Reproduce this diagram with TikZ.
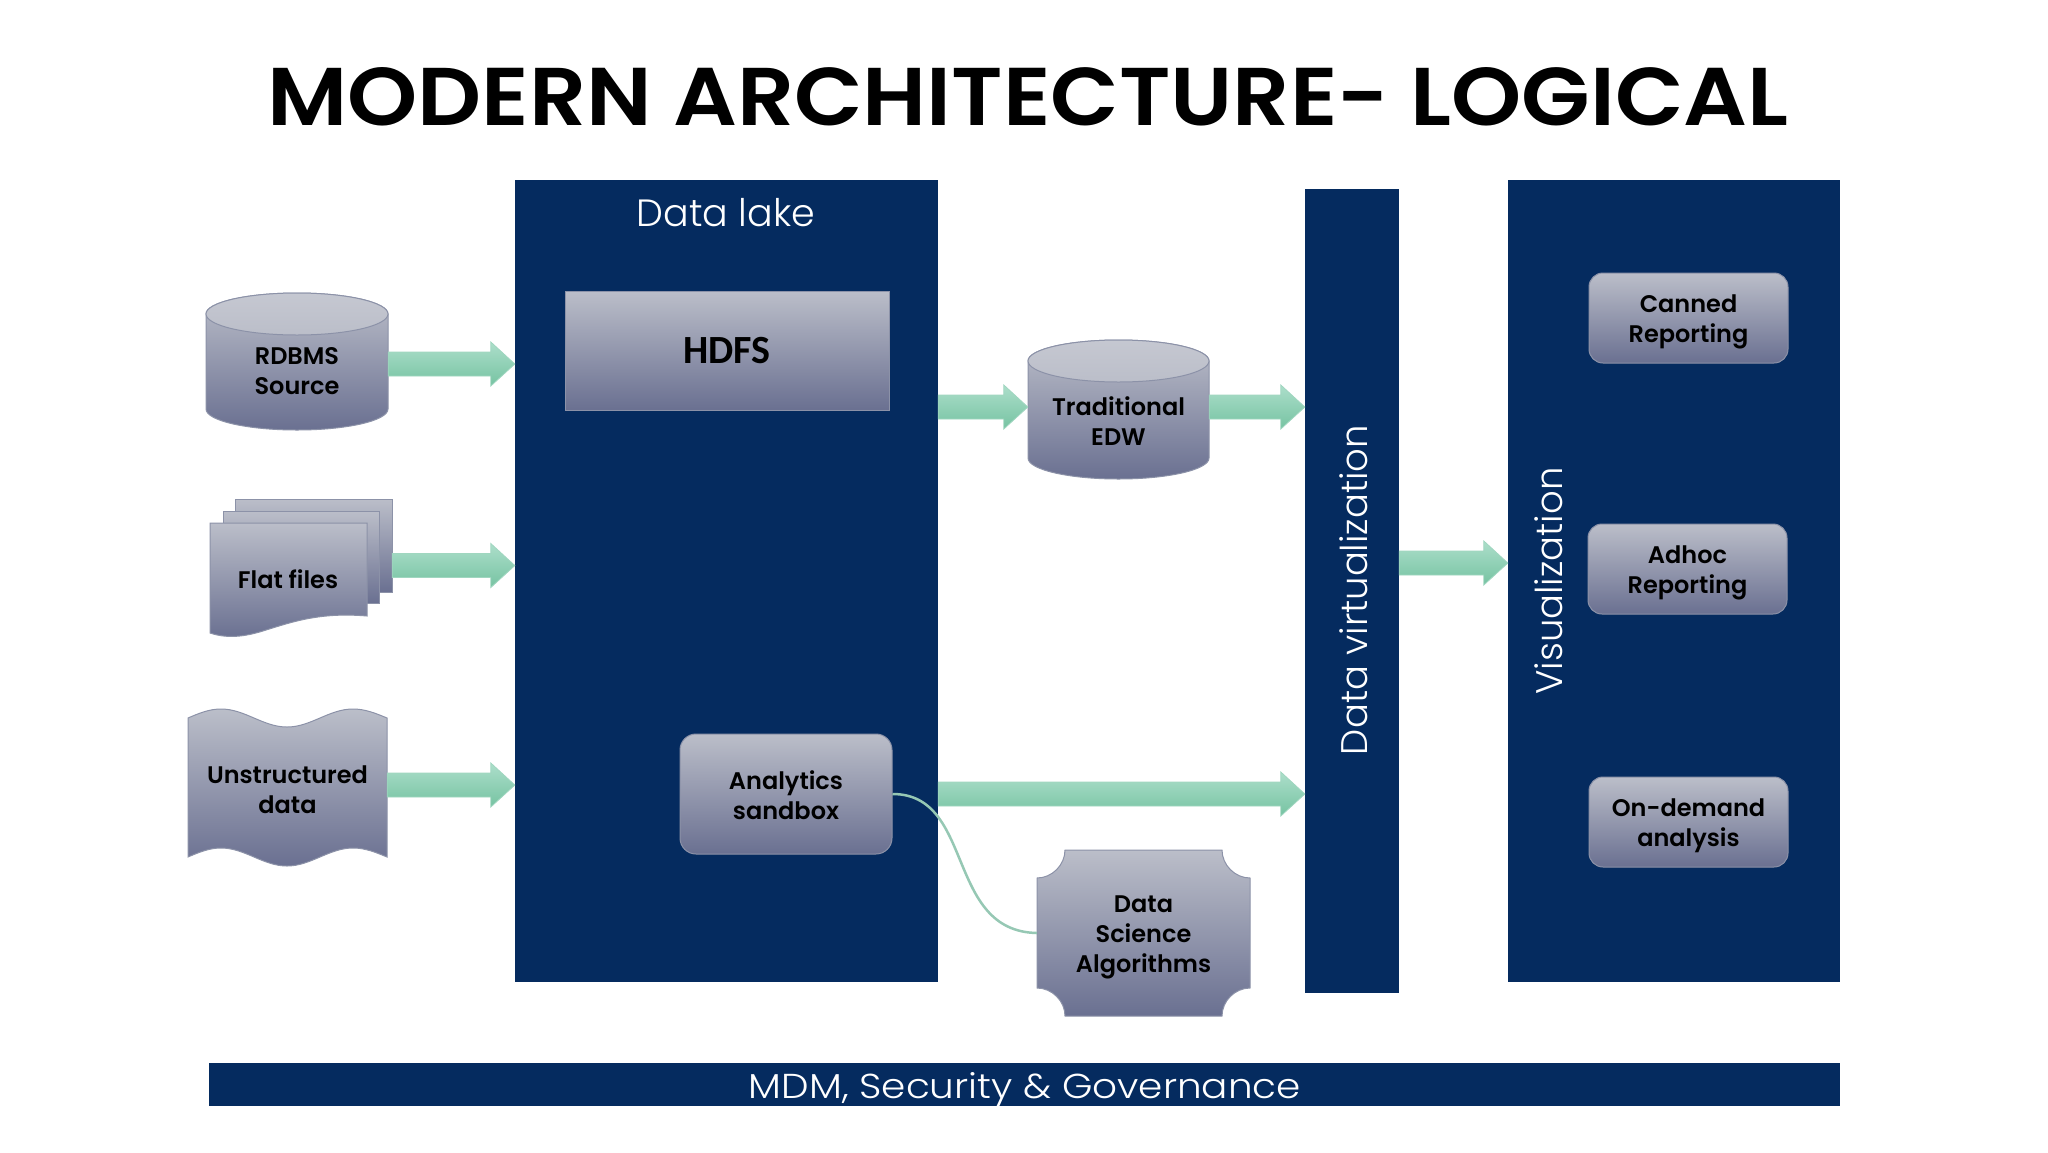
\documentclass[tikz,border=0pt]{standalone}
\usepackage{graphicx}
\usepackage{fontspec}
\setmainfont{Poppins}[BoldFont={Poppins SemiBold}]
\newfontfamily\thinfont{Poppins Light}
\newfontfamily\carlito{Carlito}
\usetikzlibrary{calc}
\definecolor{navy}{RGB}{5,43,95}
\definecolor{gtop}{RGB}{187,190,201}
\definecolor{gbot}{RGB}{106,112,145}
\definecolor{gedge}{RGB}{140,146,168}
\definecolor{atop}{RGB}{172,222,202}
\definecolor{abot}{RGB}{118,195,162}
\definecolor{aedge}{RGB}{160,214,192}
\definecolor{curvec}{RGB}{150,200,180}
\tikzset{
  panel/.style={fill=navy, draw=none, inner sep=0pt},
  grayfill/.style={top color=gtop, bottom color=gbot, draw=gedge, line width=1pt},
  lbl/.style={font=\bfseries\fontsize{24}{30}\selectfont, align=center, text=black, inner sep=0pt},
  holder/.style={inner sep=0pt, draw=none},
  whitelbl/.style={text=white, inner sep=0pt, font=\thinfont\fontsize{38}{44}\selectfont},
  flowarr/.style={top color=atop, bottom color=abot, draw=aedge, line width=0.8pt},
  rbox/.style={grayfill, rounded corners=14pt, inner sep=0pt},
}
\newcommand{\flowarrow}[2]{%
  \path[flowarr] let \p1=#1, \p2=#2 in
    ({\x1},{\y1+12pt}) -- ({\x2-24pt},{\y1+12pt}) -- ({\x2-24pt},{\y1+22pt}) --
    ({\x2},{\y1}) -- ({\x2-24pt},{\y1-22pt}) -- ({\x2-24pt},{\y1-12pt}) --
    ({\x1},{\y1-12pt}) -- cycle;}
\begin{document}
\begin{tikzpicture}[x=1pt, y=-1pt]
\useasboundingbox[fill=white] (0,0) rectangle (2048,1152);

% title
\node[inner sep=0pt] (title) at (1028,97)
  {\resizebox{1521pt}{58pt}{\bfseries MODERN ARCHITECTURE- LOGICAL}};

% navy panels
\node[panel, minimum width=423, minimum height=802] (lake) at (726.5,581) {};
\node[whitelbl] (lakelbl) at (726,213) {Data lake};
\node[panel, minimum width=94, minimum height=804] (dv) at (1352,591) {};
\node[whitelbl, rotate=90, font=\thinfont\fontsize{37}{44}\selectfont] (dvlbl) at (1354,590) {Data virtualization};
\node[panel, minimum width=332, minimum height=802] (vis) at (1674,581) {};
\node[whitelbl, rotate=90, font=\thinfont\fontsize{37}{44}\selectfont] (vislbl) at (1549,581) {Visualization};
\node[panel, minimum width=1631, minimum height=43] (mdm) at (1024.5,1084.5) {};
\node[text=white, inner sep=0pt] (mdmlbl) at (1025,1090)
  {\resizebox{552pt}{26pt}{\thinfont MDM, Security \& Governance}};

% HDFS
\node[grayfill, minimum width=324, minimum height=119, inner sep=0pt,
      font=\carlito\bfseries\fontsize{40}{44}\selectfont] (hdfs) at (727,350.5) {HDFS};

% Analytics sandbox
\node[rbox, rounded corners=16pt, minimum width=212, minimum height=120] (sandbox) at (786,794) {};
\node[lbl] (sandboxlbl) at (786,795) {Analytics\\sandbox};

% right boxes
\node[rbox, minimum width=199, minimum height=90] (canned) at (1688.5,318) {};
\node[lbl] (cannedlbl) at (1688.5,322) {Canned\\Reporting};
\node[rbox, minimum width=199, minimum height=90] (adhoc) at (1687.5,569) {};
\node[lbl] (adhoclbl) at (1687.5,573) {Adhoc\\Reporting};
\node[rbox, minimum width=199, minimum height=90] (ondemand) at (1688.5,822) {};
\node[lbl] (ondemandlbl) at (1688.5,826) {On-demand\\analysis};

% RDBMS cylinder
\path[grayfill] (206,314) -- (206,409)
  arc[start angle=180, end angle=360, x radius=91pt, y radius=21pt] -- (388,314)
  arc[start angle=0, end angle=180, x radius=91pt, y radius=21pt] -- cycle;
\path[draw=gedge, line width=1pt, top color=gtop!85!white, bottom color=gtop] (297,314) ellipse [x radius=91, y radius=21];
\node[holder, minimum width=182, minimum height=137] (rdbms) at (297,364) {};
\node[lbl] (rdbmslbl) at (297,371) {RDBMS\\Source};

% Traditional EDW cylinder
\path[grayfill] (1028,361) -- (1028,458)
  arc[start angle=180, end angle=360, x radius=90.5pt, y radius=21pt] -- (1209,361)
  arc[start angle=0, end angle=180, x radius=90.5pt, y radius=21pt] -- cycle;
\path[draw=gedge, line width=1pt, top color=gtop!85!white, bottom color=gtop] (1118.5,361) ellipse [x radius=90.5, y radius=21];
\node[holder, minimum width=181, minimum height=139] (edw) at (1118.5,407) {};
\node[lbl] (edwlbl) at (1118.5,421) {Traditional\\EDW};

% Flat files (stack of pages)
\path[grayfill] (235,499) rectangle (392,592);
\path[grayfill] (223,511) rectangle (379,603);
\path[grayfill] (210,523) -- (367,523) -- (367,616)
  .. controls (320,612) and (292,622) .. (266,630)
  .. controls (242,638) and (225,638) .. (210,633) -- cycle;
\node[holder, minimum width=182, minimum height=135] (flat) at (301,565.5) {};
\node[lbl] (flatlbl) at (288,579) {Flat files};

% Unstructured data (punched tape)
\path[grayfill] (188,718) sin (221,709) cos (254,718) sin (287,727) cos (320,718) sin (353,709) cos (387,718)
  -- (387,857) sin (353,848) cos (320,857) sin (287,866) cos (254,857) sin (221,848) cos (188,857) -- cycle;
\node[holder, minimum width=199, minimum height=158] (unstr) at (287.5,785) {};
\node[lbl] (unstrlbl) at (287.5,790) {Unstructured\\data};

% Data Science Algorithms (plaque)
\path[grayfill] (1065,850) -- (1222,850)
  .. controls (1222,865) and (1235,878) .. (1250,878) -- (1250,988)
  .. controls (1235,988) and (1222,1001) .. (1222,1016) -- (1065,1016)
  .. controls (1065,1001) and (1052,988) .. (1037,988) -- (1037,878)
  .. controls (1052,878) and (1065,865) .. (1065,850) -- cycle;
\node[holder, minimum width=213, minimum height=166] (dsa) at (1143.5,933) {};
\node[lbl] (dsalbl) at (1143.5,937) {Data\\Science\\Algorithms};

% curved connector
\draw[curvec, line width=2.5pt] (sandbox.east) .. controls (975,794) and (945,931) .. (dsa.west);

% green flow arrows
\flowarrow{(rdbms.east)}{(lake.west)}
\flowarrow{(flat.east)}{(lake.west)}
\flowarrow{(unstr.east)}{(lake.west)}
\flowarrow{(lake.east |- edw.west)}{(edw.west)}
\flowarrow{(edw.east)}{(dv.west)}
\flowarrow{(lake.east |- sandbox.east)}{(dv.west)}
\flowarrow{($(dv.east |- adhoc.west)+(0,-6)$)}{(vis.west)}
\end{tikzpicture}
\end{document}
